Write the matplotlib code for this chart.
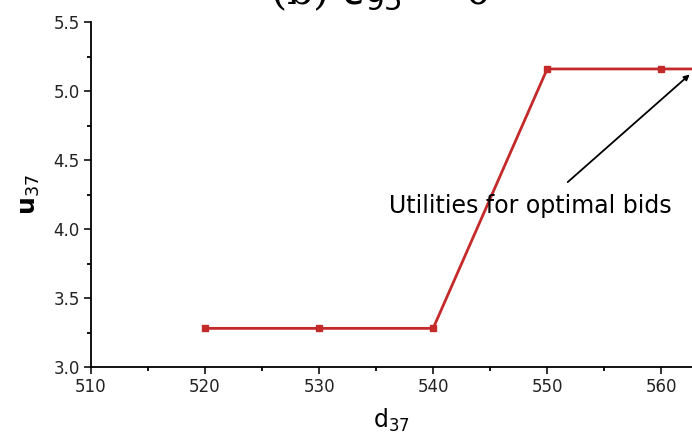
import matplotlib
matplotlib.use('Agg')
import matplotlib.pyplot as plt
from matplotlib.ticker import MultipleLocator

d37 = [520, 530, 540, 550, 560, 570]
u37 = [3.28, 3.28, 3.28, 5.16, 5.16, 5.16]
xticks = [510, 520, 530, 540, 550, 560]
yticks = [3.0, 3.5, 4.0, 4.5, 5.0, 5.5]

plt.rcParams['font.family'] = ['DejaVu Sans']

fig = plt.figure(figsize=(6.92, 4.48), dpi=100)
ax = fig.add_axes([0.1315, 0.1808, 0.8685, 0.770])

ax.plot(d37, u37, color='#c42a2a', lw=2, marker='s', ms=5,
        markerfacecolor='#c42a2a', markeredgecolor='#c42a2a')

ax.set_xlim(510, 562.7)
ax.set_ylim(3.0, 5.5)
ax.set_xticks(xticks)
ax.set_yticks(yticks)
ax.set_yticklabels(['%.1f' % v for v in yticks])
ax.xaxis.set_minor_locator(MultipleLocator(5))
ax.yaxis.set_minor_locator(MultipleLocator(0.25))
ax.tick_params(which='major', direction='out', length=5, width=1.3, labelsize=12,
               colors='#222222', pad=3)
ax.tick_params(which='minor', direction='out', length=3, width=1.3)
for s in ['top', 'right']:
    ax.spines[s].set_visible(False)
for s in ['left', 'bottom']:
    ax.spines[s].set_linewidth(1.3)

ax.set_xlabel(r'd$_{37}$', fontsize=17, labelpad=8)
ax.set_ylabel(r'$\mathbf{u}_{37}$', fontsize=18, labelpad=8)

# annotation text and arrow
ax.text(548.5, 4.17, 'Utilities for optimal bids', fontsize=17, ha='center', va='center')
ax.annotate('', xy=(562.5, 5.12), xytext=(551.8, 4.34),
            arrowprops=dict(arrowstyle='-|>', color='black', lw=1.3,
                            mutation_scale=8, shrinkA=0, shrinkB=0))

fig.text(270 / 692, 1 - 4 / 448, r'(b) $c_{95}$ = 0', fontsize=30,
         family='DejaVu Serif', va='baseline', ha='left')

fig.savefig('out.png', dpi=100)
